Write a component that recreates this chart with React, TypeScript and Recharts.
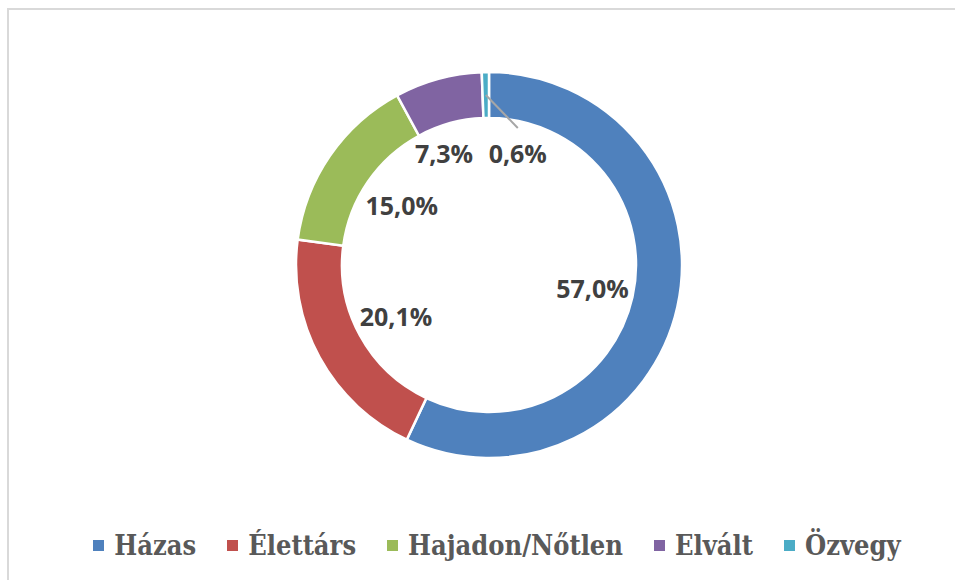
import React from "react";
import { PieChart, Pie, Cell, Legend } from "recharts";

const categories = ["Házas", "Élettárs", "Hajadon/Nőtlen", "Elvált", "Özvegy"];
const shares = [57.0, 20.1, 15.0, 7.3, 0.6];
const colors = ["#4F81BD", "#C0504D", "#9BBB59", "#8064A2", "#4BACC6"];

const data = categories.map((name, i) => ({ name, value: shares[i] }));

const RAD = Math.PI / 180;
const TINY = 0.02;

const fmt = (v: number) => v.toFixed(1).replace(".", ",") + "%";

const renderLabel = (props: any) => {
  const { cx, cy, midAngle, innerRadius, outerRadius, value, percent, index } = props;
  const style = {
    fontFamily: "'Open Sans', sans-serif",
    fontWeight: 700,
    fontSize: 25,
    fill: "#404040",
  };
  if (percent < TINY) {
    const r0 = (innerRadius + outerRadius) / 2;
    const sx = cx + r0 * Math.cos(-midAngle * RAD);
    const sy = cy + r0 * Math.sin(-midAngle * RAD);
    const ex = sx + 32;
    const ey = sy + 33;
    return (
      <g key={`lbl-${index}`}>
        <line x1={sx} y1={sy} x2={ex} y2={ey} stroke="#A6A6A6" strokeWidth={2} />
        <text x={ex} y={ey + 25} textAnchor="middle" dominantBaseline="central" style={style}>
          {fmt(value)}
        </text>
      </g>
    );
  }
  const r = innerRadius - 41;
  let x = cx + r * Math.cos(-midAngle * RAD);
  let y = cy + r * Math.sin(-midAngle * RAD);
  // best-fit: make room for the neighbouring tiny slice's label
  const next = data[index + 1];
  if (next && next.value / 100 < TINY) {
    x -= 17;
    y -= 10;
  }
  return (
    <text
      key={`lbl-${index}`}
      x={x}
      y={y}
      textAnchor="middle"
      dominantBaseline="central"
      style={style}
    >
      {fmt(value)}
    </text>
  );
};

const renderLegend = () => (
  <div
    style={{
      display: "flex",
      justifyContent: "center",
      alignItems: "center",
      fontFamily: "'DejaVu Serif Condensed', 'DejaVu Serif', serif",
      fontStretch: "condensed",
      fontWeight: 700,
      fontSize: 27,
      lineHeight: "31px",
      color: "#595959",
      whiteSpace: "nowrap",
    }}
  >
    {categories.map((c, i) => (
      <div key={c} style={{ display: "flex", alignItems: "center", marginRight: i < categories.length - 1 ? 31 : 0 }}>
        <span style={{ width: 11, height: 11, background: colors[i], display: "inline-block", marginRight: 10 }} />
        <span>{c}</span>
      </div>
    ))}
  </div>
);

export default function App() {
  return (
    <div
      style={{
        position: "absolute",
        left: 0,
        top: 0,
        width: 955,
        height: 580,
        overflow: "hidden",
        background: "#fff",
      }}
    >
      <div
        style={{
          position: "absolute",
          left: 7,
          top: 8,
          width: 1000,
          height: 620,
          borderTop: "2px solid #D9D9D9",
          borderLeft: "2px solid #D9D9D9",
        }}
      />
      <div style={{ position: "absolute", left: 0, top: 0 }}>
        <PieChart width={955} height={580} margin={{ top: 0, right: 0, bottom: 0, left: 0 }}>
          <Pie
            data={data}
            dataKey="value"
            nameKey="name"
            cx={489}
            cy={265}
            innerRadius={147}
            outerRadius={193}
            startAngle={90}
            endAngle={-270}
            stroke="#FFFFFF"
            strokeWidth={2.5}
            isAnimationActive={false}
            label={renderLabel}
            labelLine={false}
          >
            {data.map((d, i) => (
              <Cell key={d.name} fill={colors[i]} />
            ))}
          </Pie>
          <Legend
            content={renderLegend}
            wrapperStyle={{ position: "absolute", left: 0, top: 530, width: 994 }}
          />
        </PieChart>
      </div>
    </div>
  );
}
